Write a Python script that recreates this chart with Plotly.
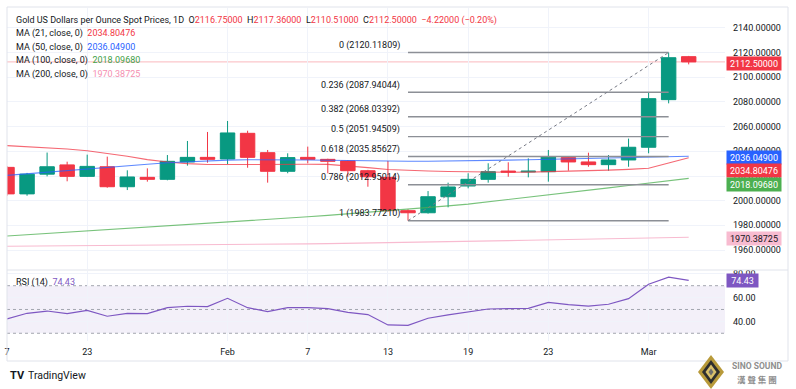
import plotly.graph_objects as go

# ---------------- data ----------------
dates = ["Jan 17", "Jan 18", "Jan 19", "Jan 22", "Jan 23", "Jan 24", "Jan 25", "Jan 26",
         "Jan 29", "Jan 30", "Jan 31", "Feb 1", "Feb 2", "Feb 5", "Feb 6", "Feb 7",
         "Feb 8", "Feb 9", "Feb 12", "Feb 13", "Feb 14", "Feb 15", "Feb 16", "Feb 19",
         "Feb 20", "Feb 21", "Feb 22", "Feb 23", "Feb 26", "Feb 27", "Feb 28", "Feb 29",
         "Mar 1", "Mar 4", "Mar 5"]
idx = list(range(len(dates)))

opens = [2027.0, 2005.5, 2021.5, 2029.0, 2019.7, 2027.5, 2011.3, 2018.9, 2017.3, 2031.4,
         2035.1, 2033.8, 2054.6, 2038.9, 2023.8, 2035.1, 2033.5, 2032.2, 2024.3, 2018.9,
         1991.9, 1990.2, 2003.2, 2011.9, 2017.3, 2024.0, 2023.3, 2023.5, 2034.9, 2031.4,
         2029.2, 2033.0, 2043.3, 2081.9, 2116.75]
highs = [2028.0, 2022.5, 2039.0, 2031.6, 2037.3, 2035.7, 2024.6, 2026.2, 2037.0, 2048.4,
         2055.7, 2064.6, 2056.7, 2041.1, 2038.4, 2043.8, 2034.0, 2032.8, 2025.0, 2032.2,
         1993.0, 2007.8, 2014.6, 2022.2, 2030.3, 2031.1, 2034.3, 2041.1, 2036.0, 2038.9,
         2037.0, 2050.3, 2087.5, 2120.118, 2117.36]
lows = [2004.0, 2004.0, 2019.7, 2015.7, 2019.2, 2010.5, 2008.6, 2015.4, 2016.5, 2028.4,
        2030.8, 2029.7, 2026.7, 2014.6, 2022.2, 2030.3, 2022.2, 2019.4, 2011.3, 1991.0,
        1983.772, 1989.5, 1994.6, 2010.0, 2014.6, 2019.4, 2018.9, 2015.4, 2024.3, 2027.5,
        2024.3, 2027.5, 2038.4, 2078.9, 2110.51]
closes = [2005.5, 2021.5, 2027.5, 2019.7, 2027.8, 2011.3, 2019.2, 2017.3, 2031.9, 2035.1,
          2033.5, 2054.9, 2035.1, 2023.8, 2034.9, 2033.5, 2031.9, 2024.3, 2019.4, 1991.9,
          1990.2, 2003.2, 2011.1, 2017.3, 2023.5, 2023.2, 2023.9, 2035.7, 2031.4, 2029.2,
          2033.0, 2043.3, 2082.7, 2115.9, 2112.5]

ma21 = [2044.6, 2043.9, 2043.0, 2041.9, 2040.5, 2038.4, 2036.0, 2033.3, 2031.3, 2030.0,
        2029.3, 2029.3, 2029.5, 2029.7, 2029.6, 2029.5, 2029.4, 2028.3, 2026.8, 2025.3,
        2024.5, 2024.0, 2023.6, 2023.2, 2023.0, 2023.0, 2023.1, 2023.4, 2023.8, 2024.3,
        2024.8, 2025.4, 2026.3, 2030.5, 2034.80476]
ma50 = [2020.5, 2021.7, 2023.0, 2024.2, 2025.4, 2026.8, 2028.1, 2029.5, 2030.8, 2031.7,
        2032.4, 2032.9, 2033.2, 2033.3, 2033.2, 2033.0, 2032.8, 2032.5, 2032.3, 2032.1,
        2032.0, 2032.0, 2032.1, 2032.3, 2032.6, 2032.9, 2033.2, 2033.6, 2033.9, 2034.2,
        2034.5, 2034.8, 2035.2, 2035.6, 2036.049]
ma100 = [1971.3, 1972.3, 1973.3, 1974.3, 1975.3, 1976.3, 1977.3, 1978.3, 1979.3, 1980.3,
         1981.3, 1982.3, 1983.3, 1984.5, 1985.7, 1986.9, 1988.1, 1989.3, 1990.6, 1991.9,
         1993.2, 1994.5, 1995.8, 1997.2, 1999.0, 2000.9, 2002.8, 2004.7, 2006.6, 2008.5,
         2010.4, 2012.3, 2014.2, 2016.1, 2018.0968]
ma200 = [1963.0, 1963.1, 1963.2, 1963.4, 1963.5, 1963.6, 1963.7, 1963.8, 1963.9, 1964.1,
         1964.2, 1964.3, 1964.4, 1964.6, 1964.8, 1965.0, 1965.2, 1965.4, 1965.6, 1965.8,
         1966.0, 1966.3, 1966.6, 1966.9, 1967.3, 1967.6, 1967.9, 1968.2, 1968.5, 1968.8,
         1969.1, 1969.5, 1969.8, 1970.1, 1970.38725]
rsi = [42.0, 46.8, 48.7, 46.5, 49.3, 44.3, 46.8, 46.5, 51.5, 52.7, 52.4, 59.4, 51.5, 48.2,
       51.5, 51.5, 50.7, 47.6, 45.7, 37.0, 36.7, 42.6, 45.4, 47.9, 50.4, 50.7, 51.0, 56.0,
       54.0, 52.9, 54.4, 59.1, 71.2, 77.1, 74.43]

fib_ratios = ["0", "0.236", "0.382", "0.5", "0.618", "0.786", "1"]
fib_prices = [2120.11809, 2087.94044, 2068.03392, 2051.94509, 2035.85627, 2012.95014, 1983.77210]
fib_start, fib_end = 20, 33

price_ticks = [1960, 1980, 2000, 2020, 2040, 2060, 2080, 2100, 2120, 2140]
rsi_ticks = [40, 60, 80]
time_tickvals = [0, 4, 11, 15, 19, 23, 27, 32]
time_ticktext = ["7", "23", "Feb", "7", "13", "19", "23", "Mar"]

title_text = "Gold US Dollars per Ounce Spot Prices, 1D"
ohlc_text = ["2116.75000", "2117.36000", "2110.51000", "2112.50000"]
change_text = "\u22124.22000 (\u22120.20%)"
ma_names = ["MA (21, close, 0)", "MA (50, close, 0)", "MA (100, close, 0)", "MA (200, close, 0)"]
ma_values = ["2034.80476", "2036.04900", "2018.09680", "1970.38725"]

# ---------------- styling ----------------
W, H = 796, 389
L, R, T, B = 7, 725, 8, 341          # plot area in pixels
FONT = "Roboto, Liberation Sans, Arial, sans-serif"
TXT = "#131722"
UP, DN = "#089981", "#F23645"
MA_COL = ["#F23645", "#2962FF", "#4CAF50", "#F8BBD0"]
MA_TXT = ["#F23645", "#2962FF", "#43A047", "#F48FB1"]
RSI_COL = "#7E57C2"
GRID = "#F0F3FA"


def pxx(x):
    return (x - L) / (R - L)


def pxy(y):
    return (B - y) / (B - T)


price_dom = [pxy(269), 1.0]
rsi_dom = [0.0, pxy(271)]

fig = go.Figure()

fig.add_trace(go.Candlestick(
    x=idx, open=opens, high=highs, low=lows, close=closes,
    increasing=dict(line=dict(color=UP, width=1), fillcolor=UP),
    decreasing=dict(line=dict(color=DN, width=1), fillcolor=DN),
    whiskerwidth=0, showlegend=False, xaxis="x", yaxis="y", hoverinfo="skip"))

for vals, col in zip([ma200, ma100, ma21, ma50], [MA_COL[3], MA_COL[2], MA_COL[0], MA_COL[1]]):
    fig.add_trace(go.Scatter(x=idx, y=vals, mode="lines", line=dict(color=col, width=1.1),
                             opacity=0.75 if col != MA_COL[3] else 1.0,
                             showlegend=False, xaxis="x", yaxis="y", hoverinfo="skip"))

# Fibonacci levels
for p in fib_prices:
    fig.add_trace(go.Scatter(x=[fib_start, fib_end], y=[p, p], mode="lines",
                             line=dict(color="#8C8F96", width=1.4), showlegend=False,
                             xaxis="x", yaxis="y", hoverinfo="skip"))
fig.add_trace(go.Scatter(x=[fib_start, fib_end], y=[fib_prices[-1], fib_prices[0]], mode="lines",
                         line=dict(color="#787B86", width=1, dash="dot"), showlegend=False,
                         xaxis="x", yaxis="y", hoverinfo="skip"))

# RSI
fig.add_trace(go.Scatter(x=idx, y=rsi, mode="lines", line=dict(color=RSI_COL, width=1.2),
                         showlegend=False, xaxis="x2", yaxis="y2", hoverinfo="skip"))

shapes = []
# current price line
shapes.append(dict(type="line", xref="paper", yref="y", x0=0, x1=1, y0=closes[-1], y1=closes[-1],
                   line=dict(color="rgba(242,54,69,0.35)", width=1), layer="below"))
# RSI band and levels
shapes.append(dict(type="rect", xref="paper", yref="y2", x0=0, x1=1, y0=30, y1=70,
                   fillcolor="rgba(126,87,194,0.09)", line=dict(width=0), layer="below"))
for lv in [70, 50, 30]:
    shapes.append(dict(type="line", xref="paper", yref="y2", x0=0, x1=1, y0=lv, y1=lv,
                       line=dict(color="#A3A6AF", width=1, dash="3px,3px"), layer="below"))
# pane separator and frame
shapes.append(dict(type="line", xref="paper", yref="paper", x0=0, x1=pxx(788), y0=pxy(270), y1=pxy(270),
                   line=dict(color="#E0E3EB", width=1)))
shapes.append(dict(type="rect", xref="paper", yref="paper", x0=pxx(7), x1=pxx(788), y0=pxy(361), y1=pxy(7),
                   line=dict(color="#E0E3EB", width=1)))


# Sino Sound diamond logo
def diamond(cx, cy, hw, hh, color):
    pts = [(cx, cy - hh), (cx + hw, cy), (cx, cy + hh), (cx - hw, cy)]
    path = "M " + " L ".join(f"{pxx(a):.5f},{pxy(b):.5f}" for a, b in pts) + " Z"
    return dict(type="path", xref="paper", yref="paper", path=path, fillcolor=color,
                line=dict(width=0))


shapes.append(diamond(711, 372, 13, 17, "#B89A3A"))
shapes.append(diamond(711, 372, 9, 12, "#2E2E2E"))
shapes.append(diamond(711, 372, 5.5, 7.5, "#D9C06A"))
shapes.append(diamond(711, 372, 2.5, 3.5, "#6E6E6E"))

ann = []
red = "#F23645"
title_html = (f"{title_text}\u00a0\u00a0O<span style='color:{red}'>{ohlc_text[0]}</span>"
              f"\u00a0\u00a0H<span style='color:{red}'>{ohlc_text[1]}</span>"
              f"\u00a0\u00a0L<span style='color:{red}'>{ohlc_text[2]}</span>"
              f"\u00a0\u00a0C<span style='color:{red}'>{ohlc_text[3]}</span>"
              f"\u00a0\u00a0<span style='color:{red}'>{change_text}</span>")
ann.append(dict(xref="paper", yref="paper", x=pxx(14), y=pxy(20.7), xanchor="left", yanchor="middle",
                text=title_html, showarrow=False, font=dict(size=9, color=TXT, family=FONT)))
for k, (nm, vv) in enumerate(zip(ma_names, ma_values)):
    yy = [33.7, 47.2, 60.7, 74.2][k]
    ann.append(dict(xref="paper", yref="paper", x=pxx(14), y=pxy(yy), xanchor="left", yanchor="middle",
                    text=f"{nm}\u00a0\u00a0<span style='color:{MA_TXT[k]}'>{vv}</span>", showarrow=False,
                    font=dict(size=9, color=TXT, family=FONT)))
ann.append(dict(xref="paper", yref="paper", x=pxx(14), y=pxy(282), xanchor="left", yanchor="middle",
                text=f"RSI (14)\u00a0\u00a0<span style='color:{RSI_COL}'>{rsi[-1]:.2f}</span>", showarrow=False,
                font=dict(size=9, color=TXT, family=FONT)))

# fib labels
for r, p in zip(fib_ratios, fib_prices):
    ann.append(dict(xref="x", yref="y", x=fib_start, y=p, xanchor="right", yanchor="middle",
                    xshift=-6, yshift=7, text=f"{r} ({p:.5f})", showarrow=False,
                    font=dict(size=9, color=TXT, family=FONT)))

# right-axis price tags
tags = [(63, ohlc_text[3], "#F23645", "white"),
        (157, ma_values[1], "#2962FF", "white"),
        (170, ma_values[0], "#F23645", "white"),
        (184, ma_values[2], "#4CAF50", "white"),
        (238.5, ma_values[3], "#F8BBD0", TXT)]
for yy, tx, bg, fg in tags:
    ann.append(dict(xref="paper", yref="paper", x=pxx(726), y=pxy(yy), xanchor="left", yanchor="middle",
                    text=tx, showarrow=False, bgcolor=bg, width=52, height=11, borderpad=1,
                    font=dict(size=9, color=fg, family=FONT)))
ann.append(dict(xref="paper", yref="paper", x=pxx(726), y=pxy(280.5), xanchor="left", yanchor="middle",
                text=f"{rsi[-1]:.2f}", showarrow=False, bgcolor=RSI_COL, width=29, height=11, borderpad=1,
                font=dict(size=9, color="white", family=FONT)))

# footer texts
ann.append(dict(xref="paper", yref="paper", x=pxx(8), y=pxy(375), xanchor="left", yanchor="middle",
                text="<b>TV</b>", showarrow=False, font=dict(size=11, color=TXT, family=FONT)))
ann.append(dict(xref="paper", yref="paper", x=pxx(26), y=pxy(375), xanchor="left", yanchor="middle",
                text="TradingView", showarrow=False, font=dict(size=10.5, color=TXT, family=FONT)))
ann.append(dict(xref="paper", yref="paper", x=pxx(757), y=pxy(366), xanchor="center", yanchor="middle",
                text="<b>SINO SOUND</b>", showarrow=False, font=dict(size=8.5, color="#8E8E8E", family=FONT)))
ann.append(dict(xref="paper", yref="paper", x=pxx(757), y=pxy(379), xanchor="center", yanchor="middle",
                text="<b>漢 聲 集 團</b>", showarrow=False,
                font=dict(size=8.5, color="#8E8E8E", family="Noto Sans CJK TC")))

axis_font = dict(size=9, color=TXT, family=FONT)
xr = [0, (R - L) / 20.05]

fig.update_layout(
    width=W, height=H, margin=dict(l=L, r=W - R, t=T, b=H - B, autoexpand=False),
    paper_bgcolor="white", plot_bgcolor="white", showlegend=False,
    boxgap=0.28, boxgroupgap=0,
    font=dict(family=FONT, size=9, color=TXT),
    xaxis=dict(domain=[0, 1], range=xr, anchor="y", tickvals=time_tickvals, showticklabels=False,
               showgrid=True, gridcolor=GRID, zeroline=False, showline=False, ticks="",
               rangeslider=dict(visible=False), fixedrange=True),
    yaxis=dict(domain=price_dom, range=[1944.6, 2156.2], side="right", tickvals=price_ticks,
               tickformat=".5f", showgrid=True, gridcolor=GRID, zeroline=False, ticks="",
               ticklabelstandoff=7, tickfont=axis_font, fixedrange=True),
    xaxis2=dict(domain=[0, 1], range=xr, anchor="y2", tickvals=time_tickvals, ticktext=time_ticktext,
                showgrid=True, gridcolor=GRID, zeroline=False, showline=False, ticks="",
                ticklabelstandoff=4, tickfont=axis_font, fixedrange=True),
    yaxis2=dict(domain=rsi_dom, range=[23.5, 82.35], side="right", tickvals=rsi_ticks,
                tickformat=".2f", showgrid=True, gridcolor=GRID, zeroline=False, ticks="",
                ticklabelstandoff=7, tickfont=axis_font, fixedrange=True),
    shapes=shapes, annotations=ann,
)

fig.write_html("out.html", config={"displayModeBar": False})

# remove the browser's default page margin so the figure sits at the window origin
with open("out.html", "r", encoding="utf-8") as f:
    html = f.read()
html = html.replace("<body>", "<body style=\"margin:0;padding:0;overflow:hidden\">", 1)
with open("out.html", "w", encoding="utf-8") as f:
    f.write(html)
